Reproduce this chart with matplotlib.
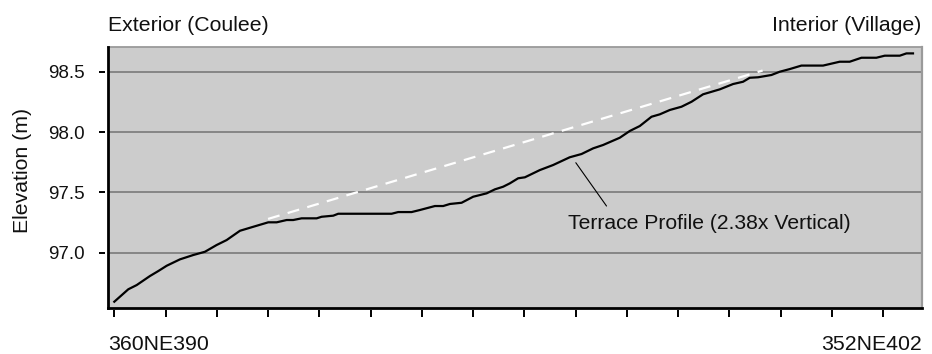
import matplotlib
matplotlib.use("Agg")
import matplotlib.pyplot as plt

plt.rcParams["font.family"] = ["Liberation Sans", "DejaVu Sans"]

# Terrace profile: distance along transect (m) and surface elevation (m)
distance = [0.00, 0.273, 0.437, 0.696, 0.858, 1.022, 1.281, 1.541, 1.769, 1.997,
            2.192, 2.452, 2.711, 3.004, 3.168, 3.363, 3.491, 3.655, 3.948, 4.045,
            4.272, 4.369, 5.411, 5.539, 5.801, 5.963, 6.256, 6.417, 6.548, 6.776,
            7.002, 7.264, 7.425, 7.587, 7.718, 7.880, 8.011, 8.303, 8.563, 8.886,
            9.116, 9.343, 9.538, 9.863, 10.058, 10.253, 10.482, 10.644, 10.839, 11.067,
            11.262, 11.488, 11.814, 12.073, 12.268, 12.399, 12.561, 12.822, 12.984, 13.179,
            13.407, 13.829, 14.154, 14.349, 14.578, 14.870, 15.033, 15.326, 15.456, 15.584]
elevation = [96.594, 96.697, 96.732, 96.807, 96.848, 96.892, 96.945, 96.981, 97.008, 97.064,
             97.105, 97.182, 97.215, 97.252, 97.252, 97.271, 97.271, 97.285, 97.285, 97.298,
             97.307, 97.323, 97.323, 97.337, 97.337, 97.354, 97.387, 97.387, 97.404, 97.414,
             97.464, 97.492, 97.525, 97.547, 97.575, 97.617, 97.625, 97.685, 97.727, 97.791,
             97.818, 97.865, 97.893, 97.953, 98.009, 98.050, 98.127, 98.147, 98.183, 98.210,
             98.251, 98.313, 98.354, 98.398, 98.417, 98.450, 98.454, 98.473, 98.500, 98.522,
             98.551, 98.551, 98.583, 98.583, 98.616, 98.616, 98.633, 98.633, 98.652, 98.652]

# Projected original terrace slope
trend_x = [3.0, 12.65]
trend_y = [97.28, 98.51]

tick_positions = list(range(16))
y_ticks = [97.0, 97.5, 98.0, 98.5]
y_tick_labels = ["97.0", "97.5", "98.0", "98.5"]
end_labels = ["360NE390", "352NE402"]
side_labels = ["Exterior (Coulee)", "Interior (Village)"]
profile_label = "Terrace Profile (2.38x Vertical)"

W, H, DPI = 932, 354, 100
fig = plt.figure(figsize=(W / DPI, H / DPI), dpi=DPI)
ax = fig.add_axes([108 / W, 1 - 307.5 / H, (921.5 - 108) / W, (307.5 - 47) / H])
ax.set_facecolor("#cccccc")
ax.set_xlim(-0.123, 15.75)
ax.set_ylim(96.546, 98.705)

ax.set_xticks(tick_positions)
ax.set_yticks(y_ticks)
ax.set_yticklabels(y_tick_labels)
ax.yaxis.grid(True, color="#808080", lw=1.3)
ax.set_axisbelow(True)

for side in ("top", "right", "left", "bottom"):
    ax.spines[side].set_color("none")
ax.spines["left"].set_position(("outward", 2.2))
ax.spines["bottom"].set_position(("outward", 1.9))

ax.tick_params(axis="x", length=4.8, width=1.4, color="black", labelbottom=False)
ax.tick_params(axis="y", length=4.5, width=1.4, color="black", pad=9.9,
               labelsize=13.5, labelcolor="#111111")

# Plot frame: light top/right edges, heavy left/bottom edges
ax.plot([0, 1], [1, 1], transform=ax.transAxes, color="#9a9a9a", lw=1.3, clip_on=False, zorder=4)
ax.plot([1, 1], [0, 1], transform=ax.transAxes, color="#9a9a9a", lw=1.6, clip_on=False, zorder=4)
ax.plot([0, 0], [0, 1], transform=ax.transAxes, color="black", lw=2.0, clip_on=False,
        solid_capstyle="projecting", zorder=5)
ax.plot([0, 1], [0, 0], transform=ax.transAxes, color="black", lw=2.0, clip_on=False,
        solid_capstyle="projecting", zorder=5)

ax.plot(trend_x, trend_y, color="white", lw=1.6, dashes=(5.4, 3.8), zorder=2.5)
ax.plot(distance, elevation, color="black", lw=1.6, zorder=3)

# Leader line and profile label
ax.annotate("", xy=(9.005, 97.746), xytext=(9.604, 97.387),
            arrowprops=dict(arrowstyle="-", color="black", lw=0.8, shrinkA=0, shrinkB=0))
ax.text(8.85, 97.194, profile_label, ha="left", va="baseline", fontsize=15.2, color="#111111")

# End-point labels below the axis and side labels above
fig.text(108 / W, 1 - 350 / H, end_labels[0], fontsize=15.3, ha="left", va="baseline",
         color="#111111")
fig.text(921.5 / W, 1 - 350 / H, end_labels[1], fontsize=15.3, ha="right", va="baseline",
         color="#111111")

fig.text(108 / W, 1 - 31 / H, side_labels[0], fontsize=15.3, ha="left", va="baseline",
         color="#111111")
fig.text(921.5 / W, 1 - 31 / H, side_labels[1], fontsize=15.3, ha="right", va="baseline",
         color="#111111")

fig.text(23 / W, 1 - 170.7 / H, "Elevation (m)", rotation=90, fontsize=15.3,
         ha="center", va="center", color="#111111")

fig.savefig("out.png", dpi=DPI)
